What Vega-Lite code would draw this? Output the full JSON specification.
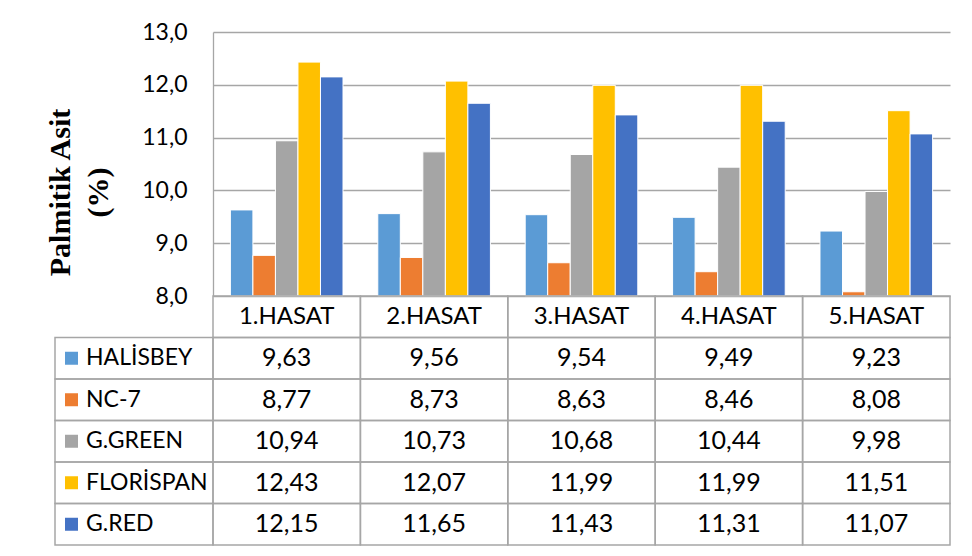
{
  "$schema": "https://vega.github.io/schema/vega-lite/v6.json",
  "background": "white",
  "padding": {"left": 45, "top": 21, "right": 22, "bottom": 0},
  "config": {
    "locale": {"number": {"decimal": ",", "thousands": ".", "grouping": [3], "currency": ["", " TL"]}},
    "view": {"stroke": null},
    "font": "Lato"
  },
  "datasets": {
    "vals": [
      {"harvest": "1.HASAT", "variety": "HALİSBEY", "value": 9.63},
      {"harvest": "1.HASAT", "variety": "NC-7", "value": 8.77},
      {"harvest": "1.HASAT", "variety": "G.GREEN", "value": 10.94},
      {"harvest": "1.HASAT", "variety": "FLORİSPAN", "value": 12.43},
      {"harvest": "1.HASAT", "variety": "G.RED", "value": 12.15},
      {"harvest": "2.HASAT", "variety": "HALİSBEY", "value": 9.56},
      {"harvest": "2.HASAT", "variety": "NC-7", "value": 8.73},
      {"harvest": "2.HASAT", "variety": "G.GREEN", "value": 10.73},
      {"harvest": "2.HASAT", "variety": "FLORİSPAN", "value": 12.07},
      {"harvest": "2.HASAT", "variety": "G.RED", "value": 11.65},
      {"harvest": "3.HASAT", "variety": "HALİSBEY", "value": 9.54},
      {"harvest": "3.HASAT", "variety": "NC-7", "value": 8.63},
      {"harvest": "3.HASAT", "variety": "G.GREEN", "value": 10.68},
      {"harvest": "3.HASAT", "variety": "FLORİSPAN", "value": 11.99},
      {"harvest": "3.HASAT", "variety": "G.RED", "value": 11.43},
      {"harvest": "4.HASAT", "variety": "HALİSBEY", "value": 9.49},
      {"harvest": "4.HASAT", "variety": "NC-7", "value": 8.46},
      {"harvest": "4.HASAT", "variety": "G.GREEN", "value": 10.44},
      {"harvest": "4.HASAT", "variety": "FLORİSPAN", "value": 11.99},
      {"harvest": "4.HASAT", "variety": "G.RED", "value": 11.31},
      {"harvest": "5.HASAT", "variety": "HALİSBEY", "value": 9.23},
      {"harvest": "5.HASAT", "variety": "NC-7", "value": 8.08},
      {"harvest": "5.HASAT", "variety": "G.GREEN", "value": 9.98},
      {"harvest": "5.HASAT", "variety": "FLORİSPAN", "value": 11.51},
      {"harvest": "5.HASAT", "variety": "G.RED", "value": 11.07}
    ],
    "harv": [
      {"harvest": "1.HASAT"},
      {"harvest": "2.HASAT"},
      {"harvest": "3.HASAT"},
      {"harvest": "4.HASAT"},
      {"harvest": "5.HASAT"}
    ],
    "vars": [
      {"variety": "HALİSBEY"},
      {"variety": "NC-7"},
      {"variety": "G.GREEN"},
      {"variety": "FLORİSPAN"},
      {"variety": "G.RED"}
    ]
  },
  "spacing": 0,
  "bounds": "flush",
  "resolve": {"scale": {"x": "independent", "y": "independent", "color": "shared"}},
  "vconcat": [
    {
      "width": 737,
      "height": 264,
      "data": {"name": "vals"},
      "mark": {"type": "bar", "stroke": "white", "strokeWidth": 1},
      "encoding": {
        "x": {
          "field": "harvest", "type": "nominal",
          "scale": {"domain": ["1.HASAT", "2.HASAT", "3.HASAT", "4.HASAT", "5.HASAT"], "paddingInner": 0.236, "paddingOuter": 0.118},
          "axis": null
        },
        "xOffset": {
          "field": "variety", "type": "nominal",
          "scale": {"domain": ["HALİSBEY", "NC-7", "G.GREEN", "FLORİSPAN", "G.RED"], "paddingInner": 0, "paddingOuter": 0}
        },
        "y": {
          "field": "value", "type": "quantitative",
          "scale": {"domain": [8, 13], "zero": false, "nice": false},
          "axis": {
            "values": [8, 9, 10, 11, 12, 13],
            "format": ".1f",
            "grid": true, "gridColor": "#a6a6a6", "gridWidth": 1.3,
            "domain": true, "domainColor": "#a6a6a6", "domainWidth": 1.3,
            "ticks": false,
            "labelFontSize": 23, "labelPadding": 26, "labelColor": "#000000", "labelFont": "Lato",
            "title": ["Palmitik Asit", "(%)"],
            "titleFont": "Liberation Serif", "titleFontSize": 30, "titleFontWeight": "bold", "titleColor": "black",
            "titlePadding": 28, "titleLineHeight": 38, "titleY": 160
          }
        },
        "y2": {"datum": 8},
        "color": {
          "field": "variety", "type": "nominal",
          "scale": {"domain": ["HALİSBEY", "NC-7", "G.GREEN", "FLORİSPAN", "G.RED"], "range": ["#5B9BD5", "#ED7D31", "#A5A5A5", "#FFC000", "#4472C4"]},
          "legend": null
        }
      }
    },
    {
      "width": 737,
      "height": 249,
      "resolve": {"scale": {"x": "independent"}},
      "layer": [
        {
          "layer": [
            {
              "data": {"name": "vals"},
              "mark": {"type": "rect", "fill": "white", "fillOpacity": 0, "stroke": "#a6a6a6", "strokeWidth": 1.5},
              "encoding": {
                "x": {"field": "harvest", "type": "nominal", "scale": {"domain": ["1.HASAT", "2.HASAT", "3.HASAT", "4.HASAT", "5.HASAT"], "paddingInner": 0, "paddingOuter": 0}, "axis": null},
                "y": {"field": "variety", "type": "nominal", "scale": {"domain": ["hdr", "HALİSBEY", "NC-7", "G.GREEN", "FLORİSPAN", "G.RED"], "paddingInner": 0, "paddingOuter": 0}, "axis": null}
              }
            },
            {
              "data": {"name": "vals"},
              "mark": {"type": "text", "fontSize": 25, "color": "#000000", "font": "Lato"},
              "encoding": {
                "x": {"field": "harvest", "type": "nominal", "axis": null},
                "y": {"field": "variety", "type": "nominal", "axis": null},
                "text": {"field": "value", "type": "quantitative", "format": ".2f"}
              }
            },
            {
              "data": {"name": "harv"},
              "mark": {"type": "rect", "fill": "white", "fillOpacity": 0, "stroke": "#a6a6a6", "strokeWidth": 1.5},
              "encoding": {
                "x": {"field": "harvest", "type": "nominal", "axis": null},
                "y": {"datum": "hdr", "type": "nominal", "axis": null}
              }
            },
            {
              "data": {"name": "harv"},
              "mark": {"type": "text", "fontSize": 24, "color": "#000000", "font": "Lato"},
              "encoding": {
                "x": {"field": "harvest", "type": "nominal", "axis": null},
                "y": {"datum": "hdr", "type": "nominal", "axis": null},
                "text": {"field": "harvest", "type": "nominal"}
              }
            }
          ]
        },
        {
          "layer": [
            {
              "data": {"name": "vars"},
              "mark": {"type": "rect", "fill": "white", "fillOpacity": 0, "stroke": "#a6a6a6", "strokeWidth": 1.5},
              "encoding": {
                "x": {"datum": "lbl", "type": "nominal", "scale": {"domain": ["lbl"], "range": [-158, 0], "paddingInner": 0, "paddingOuter": 0}, "axis": null},
                "y": {"field": "variety", "type": "nominal", "axis": null}
              }
            },
            {
              "data": {"name": "vars"},
              "mark": {"type": "point", "shape": "square", "filled": true, "size": 169, "opacity": 1, "xOffset": -62.5},
              "encoding": {
                "x": {"datum": "lbl", "type": "nominal", "axis": null},
                "y": {"field": "variety", "type": "nominal", "axis": null},
                "color": {"field": "variety", "type": "nominal", "legend": null}
              }
            },
            {
              "data": {"name": "vars"},
              "mark": {"type": "text", "fontSize": 23, "color": "#000000", "font": "Lato", "align": "left", "dx": -48},
              "encoding": {
                "x": {"datum": "lbl", "type": "nominal", "axis": null},
                "y": {"field": "variety", "type": "nominal", "axis": null},
                "text": {"field": "variety", "type": "nominal"}
              }
            }
          ]
        }
      ]
    }
  ]
}
